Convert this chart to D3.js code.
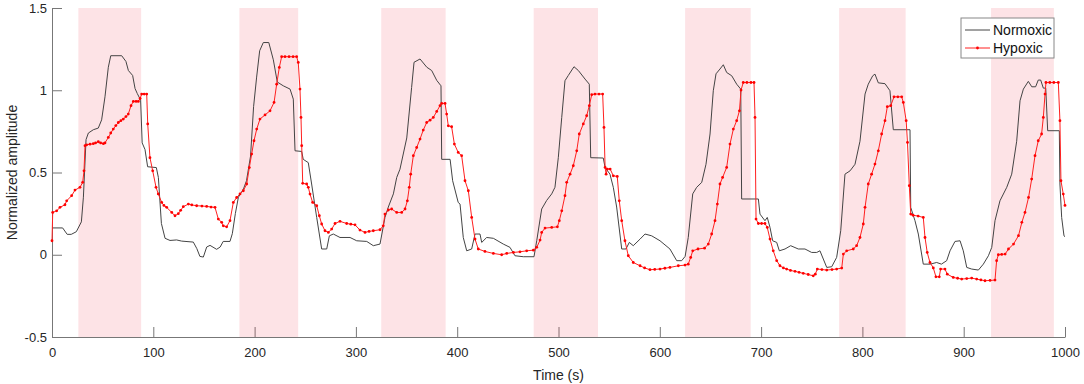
<!DOCTYPE html>
<html>
<head>
<meta charset="utf-8">
<script src="https://cdn.jsdelivr.net/npm/d3@7"></script>
<style>
  html, body { margin: 0; padding: 0; background: #fff; }
  svg { display: block; font-family: "Liberation Sans", Arial, sans-serif; }
</style>
</head>
<body>
<div id="chart"></div>
<script>
// stimulus (hypoxia) windows, seconds
const bandStart = [26, 185, 325, 475.5, 625, 777, 927];
const bandEnd   = [88, 243, 388.6, 539, 689.7, 842.7, 989];

// Normoxic trace
const normTime = [0, 10.5, 15, 19, 24, 29, 31, 33.6, 35.9, 40.8, 45.7, 49, 52.3, 55.6, 58, 68.8, 73, 75.4, 79.6, 82, 84.2, 87.5,
  89, 91.8, 94.4, 103, 105, 108, 111.6, 116.5, 123, 128, 139.5, 143, 146, 149.4, 152.7, 156, 162.5, 166, 169, 175.7,
  178, 181, 184, 189, 192, 196, 199, 202, 205, 208.6, 214, 218.5, 222.4, 228.3, 235, 238.2, 239.9, 246.5, 248, 253,
  256.3, 261.3, 266.2, 271.2, 273.8, 277.7, 284.3, 294.2, 300.8, 310.7, 317.2, 323.8, 328.7, 332, 337, 340.3, 343.5,
  350.2, 355, 357.4, 363.3, 370, 374.8, 379.8, 384, 384.7, 393, 395.5, 401, 402.8, 406, 409.4, 414.3, 417.6, 422.5,
  424.2, 429.1, 435.7, 445.5, 452.1, 457, 465.3, 475.8, 478.5, 483.4, 488.3, 493.3, 496.5, 499.8, 503.2, 506.4, 509.7,
  515.3, 519.6, 526.2, 530.4, 531.8, 544.2, 546, 550.8, 554.1, 557.4, 562.4, 566.6, 569.9, 573.8, 580.5, 585.4, 592,
  600.2, 610, 616.7, 621.6, 625, 628.1, 632.5, 636.4, 641.4, 645.6, 649.6, 652.8, 655.5, 659.4, 662.7, 666, 671, 675.9,
  679.9, 680.8, 697.3, 698.9, 703.8, 706.1, 708.8, 711.4, 715.4, 718, 723.6, 729.2, 736.7, 743.3, 749.9, 754.9, 758.1,
  761.4, 764.8, 769.7, 774.6, 778.6, 782.8, 787.8, 792.7, 797.6, 802.6, 805.8, 810.2, 812.4, 815.7, 822.3, 827.2, 830.5,
  847, 847.7, 851.9, 855.2, 860.1, 867, 873.3, 878, 883.2, 886.5, 891.4, 896.4, 899.6, 903, 907.9, 914.5, 919.4, 924.4,
  927.7, 930.9, 935.8, 942.5, 947.4, 952.3, 955.6, 958.9, 963.8, 967.2, 971, 973.6, 976, 978.6, 981, 982.9, 994.4, 995,
  996.7, 999, 1000];
const normAmp = [0.163, 0.163, 0.124, 0.124, 0.14, 0.2, 0.35, 0.70, 0.74, 0.76, 0.77, 0.82, 0.96, 1.14, 1.21, 1.21, 1.175, 1.12, 1.09, 1.01, 0.98, 0.94,
  0.68, 0.64, 0.535, 0.53, 0.47, 0.19, 0.10, 0.087, 0.09, 0.083, 0.077, 0.037, -0.01, -0.014, 0.047, 0.057, 0.033, 0.047, 0.081, 0.081,
  0.128, 0.25, 0.35, 0.40, 0.45, 0.6, 0.9, 1.08, 1.24, 1.29, 1.29, 1.185, 1.05, 1.027, 1.007, 0.946, 0.632, 0.628, 0.58, 0.56,
  0.43, 0.227, 0.035, 0.035, 0.115, 0.126, 0.105, 0.105, 0.085, 0.081, 0.055, 0.065, 0.227, 0.29, 0.37, 0.47, 0.52,
  0.71, 1.017, 1.17, 1.19, 1.14, 1.12, 1.06, 1.027, 0.58, 0.58, 0.45, 0.318, 0.308, 0.105, 0.024, 0.035, 0.126, 0.126,
  0.075, 0.105, 0.10, 0.065, 0.045, -0.006, -0.012, -0.012, 0.085, 0.278, 0.33, 0.37, 0.41, 0.59, 0.835, 1.058, 1.09,
  1.143, 1.12, 1.068, 1.037, 0.59, 0.588, 0.53, 0.49, 0.41, 0.29, 0.035, 0.035, 0.075, 0.055, 0.095, 0.126, 0.115,
  0.085, 0.035, -0.036, -0.036, -0.01, 0.105, 0.37, 0.41, 0.44, 0.55, 0.734, 0.997, 1.10, 1.129, 1.155, 1.108, 1.088, 1.037,
  1.007, 0.339, 0.339, 0.247, 0.207, 0.227, 0.166, 0.085, 0.075, 0.024, 0.035, 0.055, 0.035, 0.035, 0.014, 0.014, 0.024,
  -0.026, -0.077, -0.073, -0.016, 0.146, 0.49, 0.51, 0.55, 0.69, 0.977, 1.037, 1.088, 1.098, 1.045, 1.04, 0.997, 0.76,
  0.76, 0.288, 0.207, 0.126, -0.057, -0.057, -0.047, -0.057, -0.036, 0.024, 0.081, 0.085, 0.024, -0.077, -0.087, -0.093, -0.057, -0.006,
  0.045, 0.207, 0.328, 0.41, 0.49, 0.69, 0.936, 1.007, 1.054, 1.021, 1.021, 1.062, 1.062, 1.013, 1.013, 0.754, 0.754, 0.43,
  0.227, 0.115, 0.11];

// Hypoxic trace (sampled, with markers)
const hypTime = [0, 0.7, 4.6, 7.9, 12.8, 14.5, 19.4, 22.7, 27.6, 30.3, 31.6, 32.6, 34.2, 37.5, 40.8, 43, 45.7, 48, 50.7, 52.3,
  55.6, 58, 60.5, 63, 65.5, 68, 70.4, 73, 75.3, 78, 80.3, 83, 85.2, 87, 88.5, 91, 93.5, 94.5, 96.7, 99.4, 102.7, 104.9,
  108.3, 110.5, 113.2, 118.2, 121.4, 124.7, 127, 129.6, 134.6, 138, 142.8, 148, 152.7, 157, 160.9, 164.2, 167.5, 169.1,
  172.4, 175.7, 179, 182.3, 185.6, 188.9, 192.2, 194.8, 197.1, 199.4, 202.1, 205.3, 210.3, 215.2, 219.2, 221.8, 224.4,
  226.7, 230, 234, 238, 241.5, 243.1, 244.8, 245.8, 246.5, 247.5, 251.4, 253, 254.7, 257.3, 261.3, 263.9, 266.2, 269.5,
  272.8, 276.1, 279.4, 284.3, 290.9, 295, 299.1, 304, 309, 313, 317.2, 323.8, 327, 328.7, 332, 335.3, 340.3, 345.2,
  348.5, 350.8, 352.7, 354.1, 356.7, 360, 363.3, 366.5, 369.9, 373.2, 376.4, 379.8, 383, 384.7, 388, 389.6, 391.2,
  394.5, 397.2, 401, 404.4, 407.7, 411, 414.3, 417.6, 420.8, 427.4, 435.7, 443.9, 448.9, 455.5, 462, 468.6, 475.2,
  478.5, 481.8, 483.4, 486.7, 493.3, 498.9, 500.8, 503.2, 506.4, 508.1, 511.4, 514.6, 518, 520.5, 524.5, 527.8, 530.4,
  532.8, 536, 540, 543.6, 544.9, 546, 547, 548.2, 551, 554.1, 558, 560, 562.4, 565.6, 568.9, 573.8, 580.5, 585, 590.3,
  595, 600.2, 605, 610, 618.3, 624.9, 628.1, 630.5, 632.5, 637.7, 644.2, 647.9, 651.2, 654.5, 656.8, 659.4, 662, 666,
  669.3, 672.6, 675.9, 678.6, 680.2, 682.4, 686, 690, 693, 694, 695, 697.3, 700.5, 703.8, 706.1, 708.8, 712, 715.4,
  718.6, 722, 725.2, 729, 733.5, 737.5, 741.6, 746.5, 751.5, 753.5, 755.5, 760, 764.8, 770, 774.6, 779.6, 781.2, 784.5,
  791, 794.3, 797.6, 800.9, 802.6, 805.8, 809.1, 812.4, 815.7, 819, 822.3, 824.6, 828, 831.2, 835, 838.8, 840.4, 843.2,
  844.5, 846.3, 847.7, 850, 855, 860.1, 861.8, 864, 866.7, 870, 872.6, 875.9, 877.2, 881.5, 883.8, 889.7, 894, 898,
  903, 907.9, 912.8, 917, 921, 926, 930.9, 932.5, 934.2, 937.5, 940.9, 944.2, 949.2, 954.1, 957.4, 960.5, 964, 967.1,
  970.4, 973.6, 976.9, 978.6, 980.3, 981.2, 985, 989, 993.4, 995, 996, 998.3, 1000];
const hypAmp = [0.085, 0.257, 0.267, 0.288, 0.304, 0.328, 0.359, 0.393, 0.41, 0.44, 0.51, 0.663, 0.668, 0.672, 0.675, 0.68, 0.687, 0.68, 0.675, 0.68,
  0.713, 0.74, 0.764, 0.785, 0.804, 0.815, 0.825, 0.84, 0.855, 0.906, 0.932, 0.932, 0.932, 0.95, 0.977, 0.977, 0.977, 0.795, 0.59, 0.51, 0.41, 0.37,
  0.318, 0.3, 0.288, 0.257, 0.237, 0.25, 0.27, 0.292, 0.308, 0.303, 0.298, 0.296, 0.294, 0.29, 0.288, 0.217, 0.197, 0.176,
  0.17, 0.207, 0.318, 0.348, 0.37, 0.389, 0.43, 0.53, 0.612, 0.693, 0.764, 0.825, 0.85, 0.875, 0.926, 1.037, 1.139,
  1.204, 1.204, 1.204, 1.204, 1.204, 1.169, 1.007, 0.835, 0.663, 0.434, 0.43, 0.41, 0.369, 0.318, 0.298, 0.237, 0.187, 0.146,
  0.136, 0.156, 0.19, 0.203, 0.19, 0.186, 0.182, 0.15, 0.136, 0.142, 0.146, 0.152, 0.176, 0.247, 0.272, 0.278, 0.257, 0.257,
  0.278, 0.328, 0.41, 0.49, 0.602, 0.652, 0.703, 0.758, 0.804, 0.818, 0.835, 0.871, 0.906, 0.92, 0.92, 0.855, 0.784,
  0.778, 0.673, 0.622, 0.602, 0.45, 0.389, 0.227, 0.095, 0.035, 0.02, 0.008, 0.0, 0.008, 0.014, 0.018, 0.024, 0.028,
  0.045, 0.089, 0.136, 0.162, 0.166, 0.17, 0.207, 0.267, 0.359, 0.44, 0.49, 0.541, 0.632, 0.734, 0.795, 0.845, 0.906,
  0.973, 0.977, 0.977, 0.977, 0.774, 0.531, 0.49, 0.521, 0.521, 0.48, 0.476, 0.328, 0.207, 0.085, -0.006, -0.047, -0.067, -0.08, -0.091,
  -0.089, -0.087, -0.082, -0.077, -0.067, -0.063, -0.057, -0.016, 0.024, 0.035, 0.04, 0.065, 0.126, 0.207, 0.308, 0.43, 0.47, 0.531,
  0.673, 0.764, 0.815, 0.875, 1.001, 1.047, 1.047, 1.047, 1.047, 0.835, 0.217, 0.19, 0.19, 0.19, 0.166, 0.095, 0.024, -0.036,
  -0.067, -0.08, -0.087, -0.095, -0.101, -0.107, -0.113, -0.12, -0.128, -0.118, -0.087, -0.09, -0.093, -0.09, -0.087, -0.081, 0.004, 0.024,
  0.035, 0.055, 0.105, 0.187, 0.288, 0.43, 0.49, 0.551, 0.632, 0.734, 0.815, 0.9, 0.906, 0.96, 0.96, 0.96, 0.926, 0.815,
  0.683, 0.42, 0.247, 0.24, 0.235, 0.227, 0.105, 0.014, -0.047, -0.08, -0.134, -0.134, -0.087, -0.087, -0.118, -0.138, -0.143, -0.148,
  -0.145, -0.142, -0.148, -0.153, -0.158, -0.156, -0.154, -0.036, 0.0, 0.002, 0.004, 0.035, 0.065, 0.116, 0.197, 0.257, 0.348, 0.46,
  0.602, 0.693, 0.734, 0.835, 0.977, 1.047, 1.047, 1.047, 1.047, 0.815, 0.45, 0.369, 0.3];

const xTicks = d3.range(0, 1001, 100);
const yTicks = [-0.5, 0, 0.5, 1, 1.5];
const seriesNames = ['Normoxic', 'Hypoxic'];

const W = 1084, H = 384;
const x = d3.scaleLinear().domain([0, 1000]).range([52, 1065]);
const y = d3.scaleLinear().domain([-0.5, 1.5]).range([337, 8]);

const svg = d3.select('#chart').append('svg')
    .attr('width', W).attr('height', H);

const axisColor = '#777';
const textColor = '#262626';

// axes (ticks point inward, MATLAB style)
const xAxis = svg.append('g')
    .attr('transform', `translate(0,${y(-0.5)})`)
    .call(d3.axisBottom(x).tickValues(xTicks).tickSizeInner(-10).tickSizeOuter(0).tickPadding(8).tickFormat(d3.format('d')));
const yAxis = svg.append('g')
    .attr('transform', `translate(${x(0)},0)`)
    .call(d3.axisLeft(y).tickValues(yTicks).tickSizeInner(-10).tickSizeOuter(0).tickPadding(5).tickFormat(d => d === 0 ? '0' : String(d)));

[xAxis, yAxis].forEach(g => {
    g.select('.domain').attr('stroke', axisColor);
    g.selectAll('.tick line').attr('stroke', axisColor);
    g.selectAll('.tick text').attr('fill', textColor)
        .attr('font-size', '13px')
        .attr('font-family', '"Liberation Sans", Arial, sans-serif');
});
xAxis.selectAll('.tick text').attr('dy', '0.9em');

// shaded windows
svg.append('g').selectAll('rect')
    .data(bandStart.map((s, i) => [s, bandEnd[i]]))
    .join('rect')
    .attr('x', d => x(d[0]))
    .attr('y', y(1.5))
    .attr('width', d => x(d[1]) - x(d[0]))
    .attr('height', y(-0.5) - y(1.5))
    .attr('fill', 'rgb(240,40,60)')
    .attr('fill-opacity', 0.13);

// lines
const normData = normTime.map((t, i) => [t, normAmp[i]]);
const hypData = hypTime.map((t, i) => [t, hypAmp[i]]);
const line = d3.line().x(d => x(d[0])).y(d => y(d[1]));

svg.append('path')
    .datum(normData)
    .attr('d', line)
    .attr('fill', 'none')
    .attr('stroke', '#444')
    .attr('stroke-width', 1);

svg.append('path')
    .datum(hypData)
    .attr('d', line)
    .attr('fill', 'none')
    .attr('stroke', '#ff2020')
    .attr('stroke-width', 1);

svg.append('g').selectAll('circle')
    .data(hypData)
    .join('circle')
    .attr('cx', d => x(d[0]))
    .attr('cy', d => y(d[1]))
    .attr('r', 1.4)
    .attr('fill', '#ff0000');

// axis labels
svg.append('text')
    .attr('x', (x(0) + x(1000)) / 2).attr('y', 380)
    .attr('text-anchor', 'middle')
    .attr('font-size', '14px').attr('fill', textColor)
    .text('Time (s)');

svg.append('text')
    .attr('transform', `translate(17,${(y(-0.5) + y(1.5)) / 2}) rotate(-90)`)
    .attr('text-anchor', 'middle')
    .attr('font-size', '14px').attr('fill', textColor)
    .text('Normalized amplitude');

// legend
const lg = svg.append('g').attr('transform', 'translate(961,18)');
lg.append('rect')
    .attr('width', 93).attr('height', 40)
    .attr('fill', '#fff').attr('stroke', '#888').attr('stroke-width', 1);
lg.append('line').attr('x1', 4).attr('x2', 29).attr('y1', 12).attr('y2', 12)
    .attr('stroke', '#444').attr('stroke-width', 1);
lg.append('line').attr('x1', 4).attr('x2', 29).attr('y1', 30).attr('y2', 30)
    .attr('stroke', '#ff2020').attr('stroke-width', 1);
lg.append('circle').attr('cx', 16.5).attr('cy', 30).attr('r', 1.4).attr('fill', '#ff0000');
lg.selectAll('text.lab')
    .data(seriesNames)
    .join('text')
    .attr('class', 'lab')
    .attr('x', 32).attr('y', (d, i) => 12 + i * 18)
    .attr('dy', '0.35em')
    .attr('font-size', '14px').attr('fill', '#111')
    .text(d => d);
</script>
</body>
</html>
